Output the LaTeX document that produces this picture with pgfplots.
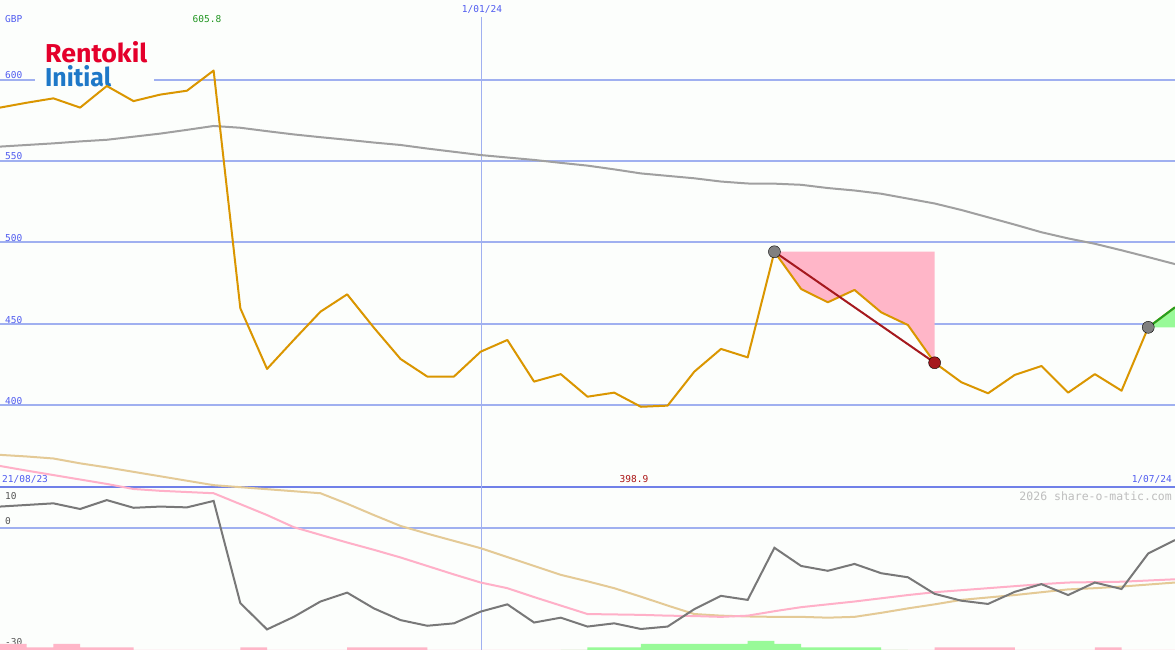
\documentclass[border=0pt]{standalone}
\usepackage{pgfplots}
\pgfplotsset{compat=1.18}
\usepackage{fontspec}
\newfontfamily\monofont{DejaVu Sans Mono}
\newfontfamily\logofont{Fira Sans}
\definecolor{bgc}{RGB}{252,254,252}
\definecolor{gridblue}{RGB}{160,176,240}
\definecolor{sepblue}{RGB}{112,128,232}
\definecolor{lblblue}{RGB}{80,92,240}
\definecolor{pricec}{RGB}{218,150,0}
\definecolor{mac}{RGB}{160,160,160}
\definecolor{oscc}{RGB}{120,120,120}
\definecolor{pinkl}{RGB}{255,176,200}
\definecolor{tanl}{RGB}{228,202,150}
\definecolor{pinkf}{RGB}{255,182,200}
\definecolor{greenf}{RGB}{152,250,152}
\definecolor{greenl}{RGB}{34,160,34}
\definecolor{darkredl}{RGB}{165,25,30}
\definecolor{rkred}{RGB}{228,0,43}
\definecolor{rkblue}{RGB}{30,120,200}
\definecolor{txtgreen}{RGB}{34,150,34}
\definecolor{txtred}{RGB}{170,20,20}
\definecolor{wm}{RGB}{190,190,190}
\definecolor{lowlbl}{RGB}{85,85,85}

\pgfplotsset{myax/.style={at={(0,0)}, anchor=south west, scale only axis,
  width=1175bp, height=650bp, xmin=0, xmax=44, hide axis, clip=true}}

\begin{document}
\begin{tikzpicture}[x=1bp,y=1bp]
\useasboundingbox (0,0) rectangle (1175,650);
\fill[bgc] (0,0) rectangle (1175,650);
% grid lines upper
\foreach \yy in {570,488.75,407.5,326.25,245}{
  \draw[gridblue, line width=2bp] (0,\yy) -- (1175,\yy);}
% lower zero line
\draw[gridblue, line width=2bp] (0,122) -- (1175,122);
% separator
\draw[sepblue, line width=2.5bp] (0,163) -- (1175,163);
% vertical date line
\draw[gridblue, line width=1bp] (481,0) -- (481,633);
% logo
\fill[bgc] (35,560) rectangle (154,620);
\node[anchor=base west, inner sep=0, text=rkred] at (45,587) {\resizebox{102bp}{21bp}{\logofont\bfseries Rentokil}};
\node[anchor=base west, inner sep=0, text=rkblue] at (45,563) {\resizebox{66bp}{21bp}{\logofont\bfseries Initial}};
% labels
\begin{scope}[every node/.style={inner sep=0, font=\monofont\fontsize{9.5bp}{11bp}\selectfont}]
\node[anchor=west, text=lblblue] at (5,631) {GBP};
\node[text=txtgreen] at (207,631) {605.8};
\node[text=lblblue] at (482,641) {1/01/24};
\node[anchor=west, text=lblblue] at (5,575) {600};
\node[anchor=west, text=lblblue] at (5,494) {550};
\node[anchor=west, text=lblblue] at (5,412) {500};
\node[anchor=west, text=lblblue] at (5,330) {450};
\node[anchor=west, text=lblblue] at (5,249) {400};
\node[anchor=west, text=lblblue] at (2,171) {21/08/23};
\node[text=txtred] at (634,171) {398.9};
\node[anchor=east, text=lblblue] at (1172,171) {1/07/24};
\node[anchor=west, text=lowlbl] at (5,154) {10};
\node[anchor=west, text=lowlbl] at (5,129) {0};
\node[anchor=west, text=lowlbl] at (5,8) {-30};
\node[anchor=east, text=wm, font=\monofont\fontsize{11.5bp}{13bp}\selectfont] at (1172,154) {2026 share-o-matic.com};
\end{scope}

% histogram
\begin{axis}[myax, ymin=0, ymax=650]
\addplot[ybar interval, fill=pinkf, draw=none] coordinates {
(0,6) (1,2.7) (2,6) (3,2.7) (4,2.7) (5,0) (6,0) (7,0) (8,0) (9,2.7) (10,0) (11,0) (12,0)
(13,2.7) (14,2.7) (15,2.7) (16,0) (17,0) (18,0) (19,0) (20,0) (21,0) (22,0) (23,0) (24,0)
(25,0) (26,0) (27,0) (28,0) (29,0) (30,0) (31,0) (32,0) (33,0) (34,0) (35,2.7) (36,2.7)
(37,2.7) (38,0) (39,0) (40,0) (41,2.7) (42,0) (43,0) (44,0)};
\addplot[ybar interval, fill=greenf, draw=none] coordinates {
(21,0) (22,2.7) (23,2.7) (24,6) (25,6) (26,6) (27,6) (28,9) (29,6) (30,2.7) (31,2.7) (32,2.7) (33,0) (34,0)};
\end{axis}

% lower panel lines
\begin{axis}[myax, ymin=-30.2, ymax=130.69]
\addplot[tanl, line width=2bp] coordinates {
(0,18.1) (1,17.7) (2,17.2) (3,16.0) (4,15.0) (5,13.9) (6,12.8) (7,11.7) (8,10.6) (9,10.1)
(10,9.6) (11,9.1) (12,8.6) (13,6.0) (14,3.2) (15,0.5) (16,-1.4) (17,-3.2) (18,-5.0) (19,-7.2)
(20,-9.4) (21,-11.6) (22,-13.2) (23,-14.9) (24,-17.0) (25,-19.2) (26,-21.3) (27,-21.7) (28,-21.9)
(29,-22.0) (30,-22.0) (31,-22.2) (32,-22.0) (33,-21.0) (34,-19.9) (35,-18.9) (36,-17.8) (37,-17.2)
(38,-16.6) (39,-15.9) (40,-15.2) (41,-14.9) (42,-14.5) (43,-14.0) (44,-13.5)};
\addplot[pinkl, line width=2bp] coordinates {
(0,15.35) (1,14.2) (2,13.1) (3,12.0) (4,10.9) (5,9.65) (6,9.2) (7,8.9) (8,8.6) (9,5.9)
(10,3.2) (11,0.2) (12,-1.7) (13,-3.6) (14,-5.4) (15,-7.3) (16,-9.4) (17,-11.5) (18,-13.5)
(19,-14.9) (20,-17.1) (21,-19.2) (22,-21.3) (23,-21.4) (24,-21.5) (25,-21.7) (26,-21.8)
(27,-22.0) (28,-21.7) (29,-20.6) (30,-19.6) (31,-18.9) (32,-18.2) (33,-17.4) (34,-16.6)
(35,-15.9) (36,-15.4) (37,-14.9) (38,-14.4) (39,-13.9) (40,-13.5) (41,-13.4) (42,-13.3)
(43,-13.0) (44,-12.7)};
\addplot[oscc, line width=2bp] coordinates {
(0,5.3) (1,5.7) (2,6.1) (3,4.7) (4,6.9) (5,5.0) (6,5.3) (7,5.1) (8,6.7) (9,-18.6)
(10,-25.1) (11,-22.0) (12,-18.2) (13,-16.0) (14,-19.9) (15,-22.8) (16,-24.2) (17,-23.6)
(18,-20.7) (19,-18.9) (20,-23.4) (21,-22.2) (22,-24.4) (23,-23.6) (24,-25.0) (25,-24.4)
(26,-20.1) (27,-16.8) (28,-17.8) (29,-4.9) (30,-9.4) (31,-10.6) (32,-8.9) (33,-11.2)
(34,-12.2) (35,-16.3) (36,-18.0) (37,-18.8) (38,-15.8) (39,-13.9) (40,-16.6) (41,-13.5)
(42,-15.1) (43,-6.3) (44,-3.0)};
\end{axis}

% upper panel
\begin{axis}[myax, ymin=249.23, ymax=649.23]
\addplot[mac, line width=2bp] coordinates {
(0,559) (1,560) (2,561) (3,562.2) (4,563.2) (5,565.1) (6,567) (7,569.3) (8,571.7) (9,570.6)
(10,568.5) (11,566.5) (12,564.8) (13,563.2) (14,561.5) (15,560) (16,557.8) (17,555.8)
(18,553.8) (19,552.3) (20,550.8) (21,549) (22,547.3) (23,545) (24,542.5) (25,541)
(26,539.5) (27,537.5) (28,536.3) (29,536.2) (30,535.5) (31,533.5) (32,532) (33,530)
(34,527) (35,524) (36,520) (37,515.5) (38,511) (39,506.3) (40,502.5) (41,499.2) (42,495.2)
(43,491) (44,486.7)};
\addplot[fill=pinkf, draw=none] coordinates {
(29,494.3) (30,471.4) (31,463.2) (32,470.8) (33,457) (34,449.2) (35,426) (35,494.3)} --cycle;
\addplot[fill=greenf, draw=none] coordinates {(43,447.8) (44,460.1) (44,447.8)} --cycle;
\addplot[only marks, mark=*, mark size=6bp, mark options={fill=gray, draw=none}] coordinates {(29,494.3) (43,447.8)};
\addplot[only marks, mark=*, mark size=6bp, mark options={fill=darkredl, draw=none}] coordinates {(35,426)};
\addplot[pricec, line width=2bp, line join=round] coordinates {
(0,583) (1,586) (2,588.7) (3,583) (4,596.3) (5,587) (6,591) (7,593.4) (8,605.8) (9,459.5)
(10,422.2) (11,440) (12,457.4) (13,468.1) (14,447.6) (15,428.3) (16,417.5) (17,417.5)
(18,432.8) (19,440) (20,414.4) (21,419) (22,405.1) (23,407.6) (24,398.9) (25,399.6)
(26,420.5) (27,434.5) (28,429.3) (29,494.3) (30,471.4) (31,463.2) (32,470.8) (33,457)
(34,449.2) (35,426) (36,414) (37,407.2) (38,418.5) (39,424) (40,407.6) (41,419) (42,408.8)
(43,447.8) (44,460.1)};
\addplot[darkredl, line width=2bp] coordinates {(29,494.3) (35,426)};
\addplot[greenl, line width=2bp] coordinates {(43,447.8) (44,460.1)};
\end{axis}
\end{tikzpicture}
\end{document}
